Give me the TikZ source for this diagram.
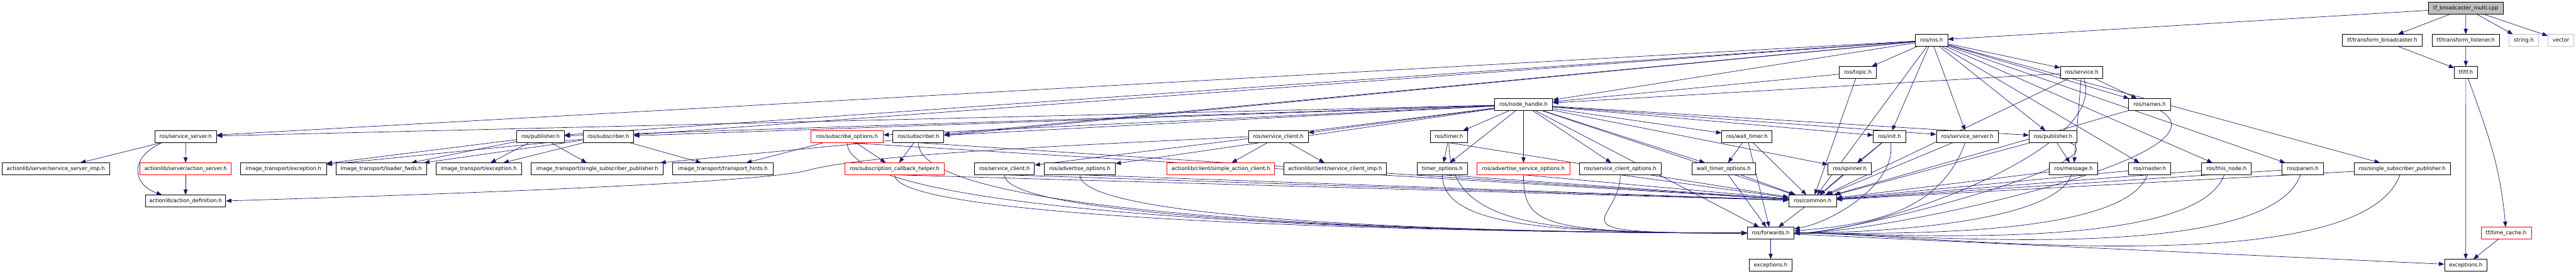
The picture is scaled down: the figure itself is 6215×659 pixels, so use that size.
\documentclass[tikz,border=0pt]{standalone}
\usepackage{fontspec}
\setmainfont{DejaVu Sans}
\usetikzlibrary{arrows.meta,calc}
\definecolor{edgeblue}{HTML}{191970}
\definecolor{nodegray}{HTML}{BFBFBF}
\pgfdeclarelayer{edgelayer}
\pgfsetlayers{edgelayer,main}
\tikzset{
  box/.style={draw=black, fill=white, line width=0.35pt, minimum height=0.28cm,
    inner sep=0pt, font=\fontsize{3.6pt}{4pt}\selectfont, text=black},
  redbox/.style={box, draw=red},
  graybox/.style={box, draw=nodegray},
  rootbox/.style={box, fill=nodegray},
  e/.style={draw=edgeblue, line width=0.3pt, -{Triangle[length=0.13cm,width=0.1cm]}}
}
\newcommand\nd[6]{\node[#1,minimum width=#5*0.01cm] (#2) at (#3,-#4) {#6};}
\begin{document}
\begin{tikzpicture}[x=0.01cm,y=0.01cm]
\useasboundingbox (0,0) rectangle (6215,-659);
% row 0/1
\nd{rootbox}{n0}{5948.8}{19.6}{180.4}{tf\_broadcaster\_multi.cpp}
\nd{box}{n1}{4660}{97}{78}{ros/ros.h}
\nd{box}{n2}{5747.5}{97}{193}{tf/transform\_broadcaster.h}
\nd{box}{n3}{5949}{97}{162}{tf/transform\_listener.h}
\nd{graybox}{n4}{6089}{97}{70.7}{string.h}
\nd{graybox}{n5}{6178.7}{97}{62.7}{vector}
% row 2
\nd{box}{n6}{4482.5}{174.4}{89.5}{ros/topic.h}
\nd{box}{n7}{5022.3}{174.4}{102.6}{ros/service.h}
\nd{box}{n8}{5949.2}{174.4}{55}{tf/tf.h}
% row 3
\nd{box}{n9}{3675.8}{251.8}{140.3}{ros/node\_handle.h}
\nd{box}{n10}{5186.3}{251.8}{101.4}{ros/names.h}
% row 4
\nd{box}{n11}{448}{329.2}{149.3}{ros/service\_server.h}
\nd{box}{n12}{1304.1}{329.2}{114.8}{ros/publisher.h}
\nd{box}{n13}{1467.6}{329.2}{122}{ros/subscriber.h}
\nd{redbox}{n14}{2043.9}{329.2}{173.7}{ros/subscribe\_options.h}
\nd{box}{n15}{2215.6}{329.2}{123.4}{ros/subscriber.h}
\nd{box}{n16}{3084}{329.2}{144}{ros/service\_client.h}
\nd{box}{n17}{3495.8}{329.2}{90.8}{ros/timer.h}
\nd{box}{n18}{4214.6}{329.2}{121.4}{ros/wall\_timer.h}
\nd{box}{n19}{4558.5}{329.2}{78.2}{ros/init.h}
\nd{box}{n20}{4746.6}{329.2}{149.2}{ros/service\_server.h}
\nd{box}{n21}{4953.2}{329.2}{115.4}{ros/publisher.h}
% row 5
\nd{box}{n22}{134.6}{406.6}{258.7}{actionlib/server/service\_server\_imp.h}
\nd{redbox}{n23}{447.7}{406.6}{220.2}{actionlib/server/action\_server.h}
\nd{box}{n24}{683.9}{406.6}{207}{image\_transport/exception.h}
\nd{box}{n25}{919.7}{406.6}{218.2}{image\_transport/loader\_fwds.h}
\nd{box}{n26}{1155.5}{406.6}{206.3}{image\_transport/exception.h}
\nd{box}{n27}{1441.1}{406.6}{318.4}{image\_transport/single\_subscriber\_publisher.h}
\nd{box}{n28}{1743.9}{406.6}{242.2}{image\_transport/transport\_hints.h}
\nd{redbox}{n29}{2158.5}{406.6}{238.8}{ros/subscription\_callback\_helper.h}
\nd{box}{n30}{2423.6}{406.6}{143.9}{ros/service\_client.h}
\nd{box}{n31}{2605.3}{406.6}{170.5}{ros/advertise\_options.h}
\nd{redbox}{n32}{2945.5}{406.6}{259.1}{actionlib/client/simple\_action\_client.h}
\nd{box}{n33}{3221.2}{406.6}{247.4}{actionlib/client/service\_client\_imp.h}
\nd{box}{n34}{3479.9}{406.6}{122.7}{timer\_options.h}
\nd{redbox}{n35}{3675.6}{406.6}{223.5}{ros/advertise\_service\_options.h}
\nd{box}{n36}{3909}{406.6}{198.3}{ros/service\_client\_options.h}
\nd{box}{n37}{4158.6}{406.6}{152.5}{wall\_timer\_options.h}
\nd{box}{n38}{4462.7}{406.6}{104.1}{ros/spinner.h}
\nd{box}{n39}{5002.9}{406.6}{116.7}{ros/message.h}
\nd{box}{n40}{5186.3}{406.6}{101.5}{ros/master.h}
\nd{box}{n41}{5371.6}{406.6}{120.1}{ros/this\_node.h}
\nd{box}{n42}{5555.6}{406.6}{99.2}{ros/param.h}
\nd{box}{n43}{5795.5}{406.6}{231.7}{ros/single\_subscriber\_publisher.h}
% row 6-8
\nd{box}{n44}{447.7}{484}{193.7}{actionlib/action\_definition.h}
\nd{box}{n45}{4373.1}{484}{114.8}{ros/common.h}
\nd{box}{n46}{4272}{561.4}{112.7}{ros/forwards.h}
\nd{redbox}{n47}{6046.4}{561.4}{121.3}{tf/time\_cache.h}
\nd{box}{n48}{4272}{638.8}{102.1}{exceptions.h}
\nd{box}{n49}{5948.9}{638.8}{102.3}{exceptions.h}
\begin{pgfonlayer}{edgelayer}
\fill[white] (0,0) rectangle (6215,-659);
\foreach \src/\dst in {n0/n1,n0/n2,n0/n3,n0/n4,n0/n5,n2/n8,n3/n8,n8/n49,n47/n49,
  n1/n6,n1/n7,n1/n9,n1/n10,n1/n19,n1/n20,n1/n21,n1/n40,n1/n41,n1/n42,n1/n43,n1/n45,
  n1/n11,n1/n12,n1/n13,n1/n15,n1/n27,
  n6/n9,n6/n45,n7/n9,n7/n10,n7/n39,n7/n45,n10/n45,
  n9/n11,n9/n12,n9/n13,n9/n14,n9/n15,n9/n16,n9/n30,n9/n31,n9/n17,n9/n34,n9/n35,n9/n36,
  n9/n18,n9/n37,n9/n38,n9/n19,n9/n20,n9/n21,n9/n45,n9/n46,
  n11/n22,n11/n23,n23/n44,n16/n32,n16/n33,
  n12/n24,n12/n25,n12/n26,n12/n27,n13/n24,n13/n25,n13/n26,n13/n28,
  n14/n28,n14/n29,n15/n29,n17/n34,n18/n37,n18/n45,n18/n46,n37/n45,n37/n46,n38/n45,
  n19/n38,n19/n45,n20/n45,n21/n39,n21/n45,n39/n45,n40/n45,n41/n45,n42/n45,n43/n45,
  n45/n46,n46/n48,n46/n49}
  \draw[e] (\src) -- (\dst);
\foreach \src in {n14,n15,n29,n30,n31,n34,n35,n36,n17}
  \draw[e] (\src.south) -- (n45);
\foreach \src in {n29,n30,n31,n34,n35,n36}
  \draw[e] (\src.south) .. controls +(0,-120) and +(-500,0) .. (n46.west);
\foreach \src in {n14,n15,n17}
  \draw[e] (\src.south) .. controls +(0,-200) and +(-500,0) .. (n46.west);
\foreach \src in {n39,n40,n41,n42,n43}
  \draw[e] (\src) to[out=-110,in=0,looseness=0.5] (n46);
\draw[e] (n7) to[out=-70,in=0,looseness=0.6] (n46);
\draw[e] (n10) to[out=-30,in=0,looseness=0.6] (n46);
\draw[e] (n21) to[out=-20,in=0,looseness=0.5] (n46);
\draw[e] (n19) to[out=-80,in=10,looseness=0.8] (n46);
\draw[e] (n20) to[out=-110,in=5] (n46);
\draw[e] (n8) to[out=-70,in=95] (n47);
\draw[e] ($(n11.south)+(-57,0)$) .. controls (310,-380) and (320,-445) .. ($(n44.north)+(-57,0)$);
\draw[e] (n16.west) .. controls (2600,-350) and (2100,-370) .. (1950,-410)
  .. controls (1880,-430) and (1500,-455) .. (n44.east);
\end{pgfonlayer}
\end{tikzpicture}
\end{document}
